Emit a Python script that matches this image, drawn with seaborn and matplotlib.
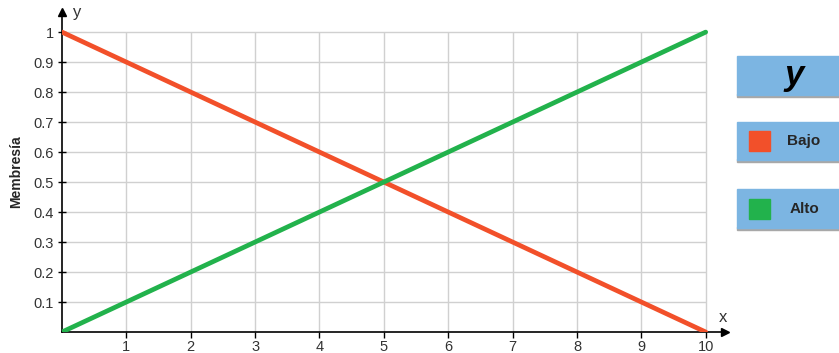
import pandas as pd
import seaborn as sns
import matplotlib.pyplot as plt
from matplotlib.patches import Rectangle

# datos de las funciones de membresía
x = [0, 10]
bajo = [1, 0]
alto = [0, 1]
x_ticks = [1, 2, 3, 4, 5, 6, 7, 8, 9, 10]
y_ticks = [0.1, 0.2, 0.3, 0.4, 0.5, 0.6, 0.7, 0.8, 0.9, 1]
y_labels = ["0.1", "0.2", "0.3", "0.4", "0.5", "0.6", "0.7", "0.8", "0.9", "1"]

df = pd.DataFrame({"x": x * 2, "Membresía": bajo + alto,
                   "serie": ["Bajo"] * 2 + ["Alto"] * 2})
colores = {"Bajo": "#f2502a", "Alto": "#22b24c"}

sns.set_style("white")
plt.rcParams['font.family'] = ['Liberation Sans', 'DejaVu Sans']

fig = plt.figure(figsize=(8.39, 3.53), dpi=100)
ax = fig.add_axes([62 / 839, 21 / 353, (725 - 62) / 839, (332 - 12) / 353])
ax.set_xlim(0, 10.3)
ax.set_ylim(0, 1.067)

# rejilla sólo dentro de [0,10] x [0,1]
ax.vlines(x_ticks, 0, 1, color="#d0d0d0", lw=1, zorder=0)
ax.hlines(y_ticks, 0, 10, color="#d0d0d0", lw=1, zorder=0)

sns.lineplot(data=df, x="x", y="Membresía", hue="serie", palette=colores,
             lw=3.4, legend=False, ax=ax, zorder=3, solid_capstyle="round")

for s in ["top", "right"]:
    ax.spines[s].set_visible(False)
ax.spines["left"].set_color("black")
ax.spines["bottom"].set_color("black")
ax.spines["left"].set_linewidth(1.2)
ax.spines["bottom"].set_linewidth(1.2)

# flechas de los ejes
ax.plot(1, 0, ">k", transform=ax.transAxes, clip_on=False, ms=6)
ax.plot(0, 1, "^k", transform=ax.transAxes, clip_on=False, ms=6)

ax.set_xticks(x_ticks)
ax.set_xticklabels([str(t) for t in x_ticks])
ax.set_yticks(y_ticks)
ax.set_yticklabels(y_labels)
ax.tick_params(axis="x", direction="out", length=4, width=1, labelsize=10.5,
               colors="black", labelcolor="#333333", bottom=True, pad=2)
ax.tick_params(axis="y", direction="inout", length=6, width=1, labelsize=10.5,
               colors="black", labelcolor="#333333", left=True, pad=3)
ax.set_xlabel("")
ax.set_ylabel("Membresía", fontweight="bold", fontsize=10, labelpad=7)

ax.text(0.016, 1.0, "y", transform=ax.transAxes, fontsize=12, va="center",
        color="#333333")
ax.text(0.99, 0.045, "x", transform=ax.transAxes, fontsize=12, va="center",
        color="#333333")

# leyenda a la derecha como cajas
def caja(y_top, y_bot):
    h = (y_bot - y_top) / 353
    fig.patches.append(Rectangle((737 / 839, 1 - y_bot / 353 - 0.006), 102 / 839, 0.008,
                                 transform=fig.transFigure, color="#a8a8a8"))
    fig.patches.append(Rectangle((737 / 839, 1 - y_bot / 353), 102 / 839, h,
                                 transform=fig.transFigure, color="#7cb5e2"))

caja(56, 95)
fig.text(794 / 839, 1 - 75 / 353, "y", fontsize=25, fontweight="bold",
         style="italic", ha="center", va="center", color="black")
for (nombre, yt, yb) in [("Bajo", 122, 160), ("Alto", 189, 228)]:
    caja(yt, yb)
    yc = (yt + yb) / 2
    fig.patches.append(Rectangle((749 / 839, 1 - (yc + 10) / 353), 21 / 839, 20 / 353,
                                 transform=fig.transFigure, color=colores[nombre]))
    fig.text(804 / 839, 1 - yc / 353, nombre, fontsize=11, fontweight="bold",
             ha="center", va="center")

fig.savefig("out.png", dpi=100)
